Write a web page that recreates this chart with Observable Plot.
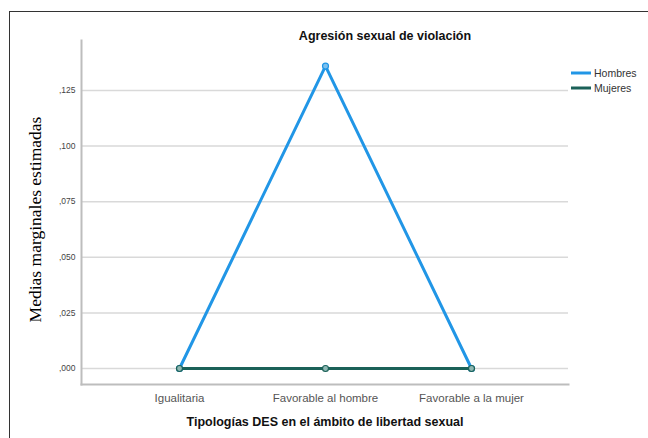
<!DOCTYPE html>
<html>
<head>
<meta charset="utf-8">
<script src="https://cdn.jsdelivr.net/npm/d3@7"></script>
<script src="https://cdn.jsdelivr.net/npm/@observablehq/plot@0.6"></script>
<style>
  html, body { margin: 0; padding: 0; background: #fff; overflow: hidden; }
  #wrap { position: relative; width: 648px; height: 438px; }
  #border { position: absolute; left: 9px; top: 11px; width: 700px; height: 500px;
            border-left: 1.5px solid #333; border-top: 1.5px solid #333; pointer-events: none; }
  #chart { position: absolute; left: 0; top: 0; }
</style>
</head>
<body>
<div id="wrap"><div id="chart"></div><div id="border"></div></div>
<script>
const categories = ["Igualitaria", "Favorable al hombre", "Favorable a la mujer"];
const series = ["Hombres", "Mujeres"];
const hombres = [0.000, 0.136, 0.000];
const mujeres = [0.000, 0.000, 0.000];
const yTicks = [0, 0.025, 0.05, 0.075, 0.1, 0.125];
const colors = ["#2196e6", "#1b6158"];

const data = [];
categories.forEach((c, i) => {
  data.push({cat: c, serie: series[0], value: hombres[i]});
});
categories.forEach((c, i) => {
  data.push({cat: c, serie: series[1], value: mujeres[i]});
});
const legend = series.map((s, i) => ({serie: s, i}));
const fmt = d => d.toFixed(3).replace("0.", ",");

const chart = Plot.plot({
  width: 648,
  height: 438,
  marginLeft: 81,
  marginRight: 80,
  marginTop: 40,
  marginBottom: 54,
  style: {fontFamily: "Arial, 'Liberation Sans', sans-serif", background: "#fff"},
  x: {type: "point", domain: categories, padding: 0.66},
  y: {domain: [-0.0072, 0.1475]},
  color: {domain: series, range: colors},
  marks: [
    Plot.gridY(yTicks, {stroke: "#d9d9d9", strokeOpacity: 1, strokeWidth: 1.5}),
    Plot.axisY(yTicks, {tickFormat: fmt, tickSize: 0, tickPadding: 6, fontSize: 8.5, fill: "#444", label: null}),
    Plot.axisX({tickSize: 0, tickPadding: 9, fontSize: 11.5, fill: "#555", label: null}),
    Plot.frame({anchor: "left", stroke: "#bdbdbd", strokeWidth: 2}),
    Plot.frame({anchor: "bottom", stroke: "#bdbdbd", strokeWidth: 2}),
    Plot.line(data, {x: "cat", y: "value", z: "serie", stroke: "serie", strokeWidth: 3}),
    Plot.dot(data, {x: "cat", y: "value", stroke: "serie", fill: d => d.serie === "Hombres" ? "#7cc0ee" : "#8fb8b3", r: 3, strokeWidth: 1.2}),
    Plot.text(["Agresión sexual de violación"], {frameAnchor: "top", dx: 60, dy: -9, fontSize: 12.5, fontWeight: "bold", fill: "#111"}),
    Plot.text(["Tipologías DES en el ámbito de libertad sexual"], {frameAnchor: "bottom", dy: 41, fontSize: 12.5, fontWeight: "bold", fill: "#111"}),
    Plot.text(["Medias marginales estimadas"], {frameAnchor: "left", textAnchor: "middle", dx: -46, dy: 7, rotate: -90, fontSize: 17.5, fontFamily: "'Liberation Serif', 'DejaVu Serif', serif", fill: "#000"})
  ]
});
document.getElementById("chart").appendChild(chart);

const svg = d3.select(chart);
const color = chart.scale("color");
const lg = svg.append("g").attr("font-family", "Arial, 'Liberation Sans', sans-serif").attr("font-size", 10.5).attr("text-anchor", "start");
legend.forEach(d => {
  const y = 73 + d.i * 15;
  lg.append("line").attr("x1", 571).attr("x2", 591).attr("y1", y).attr("y2", y)
    .attr("stroke", color.apply(d.serie)).attr("stroke-width", 3);
  lg.append("text").attr("x", 594).attr("y", y).attr("dy", "0.35em").attr("fill", "#333").text(d.serie);
});
</script>
</body>
</html>
